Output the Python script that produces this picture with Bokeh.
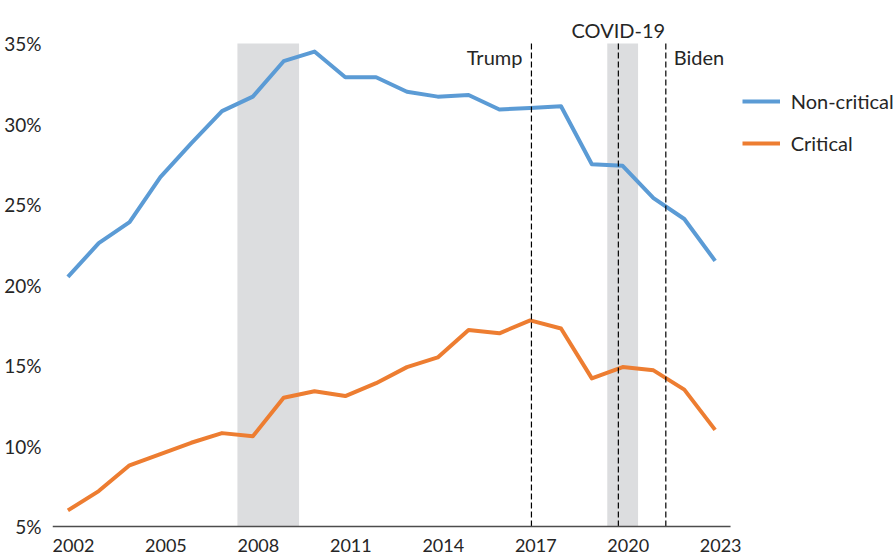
from bokeh.plotting import figure
from bokeh.models import (ColumnDataSource, FixedTicker, PrintfTickFormatter,
                          CustomJSTickFormatter, Legend, LegendItem, Label, Range1d)
from bokeh.embed import file_html
from bokeh.resources import INLINE

# ---- data ----
years = list(range(2002, 2024))
non_critical = [20.5, 22.6, 23.9, 26.7, 28.8, 30.8, 31.7, 33.9, 34.5, 32.9, 32.9,
                32.0, 31.7, 31.8, 30.9, 31.0, 31.1, 27.5, 27.4, 25.4, 24.1, 21.5]
critical = [6.0, 7.2, 8.8, 9.5, 10.2, 10.8, 10.6, 13.0, 13.4, 13.1, 13.9,
            14.9, 15.5, 17.2, 17.0, 17.8, 17.3, 14.2, 14.9, 14.7, 13.5, 11.0]
shade_start = [2007.5, 2019.5]
shade_end = [2009.5, 2020.5]
event_names = ["Trump", "COVID-19", "Biden"]
event_years = [2017.04, 2019.86, 2021.4]
x_ticks = [2002, 2005, 2008, 2011, 2014, 2017, 2020, 2023]
y_ticks = [5, 10, 15, 20, 25, 30, 35]
x_axis_extent = (2001.5, 2023.5)
y_axis_extent = (5, 35)

FONT = "Lato"
TXT = "#262626"
BLUE = "#5B9BD5"
ORANGE = "#ED7D31"

# frame geometry (figure pixels)
W, H = 893, 555
LEFT, TOP = 52, 2
Y_TOP_PX = 43          # where 35% sits, from the figure top
PX_PER_YEAR = 30.82
PX_PER_PCT = 16.1
LABEL_SHIFT = 0.18     # year labels sit slightly right of their year (as in source)
frame_w = W - LEFT
frame_h = H - TOP
x0 = x_axis_extent[0]
x1 = x0 + frame_w / PX_PER_YEAR
y1 = y_axis_extent[1] + (Y_TOP_PX - TOP) / PX_PER_PCT
y0 = y1 - frame_h / PX_PER_PCT

p = figure(width=W, height=H, output_backend="svg", toolbar_location=None,
           x_range=Range1d(x0, x1), y_range=Range1d(y0, y1),
           min_border_left=LEFT, min_border_right=0, min_border_top=TOP,
           min_border_bottom=0)
p.outline_line_color = None
p.xgrid.visible = False
p.ygrid.visible = False
p.background_fill_color = "white"
p.border_fill_color = "white"

# shaded periods
shade_src = ColumnDataSource(dict(left=shade_start, right=shade_end))
p.quad(left="left", right="right", bottom=y_axis_extent[0], top=y_axis_extent[1],
       source=shade_src, fill_color="#DCDDDF", line_color=None)

src = ColumnDataSource(dict(year=years, nc=non_critical, c=critical))
r_nc = p.line("year", "nc", source=src, line_color=BLUE, line_width=4,
              line_join="round")
r_c = p.line("year", "c", source=src, line_color=ORANGE, line_width=4,
             line_join="round")

# event lines
ev_src = ColumnDataSource(dict(x=event_years))
p.segment(x0="x", x1="x", y0=y_axis_extent[0], y1=y_axis_extent[1], source=ev_src,
          line_color="black", line_width=1.2, line_dash="6 3")

# x axis baseline (only over the axis extent)
p.segment(x0=[x_axis_extent[0]], x1=[x_axis_extent[1]],
          y0=[y_axis_extent[0]], y1=[y_axis_extent[0]],
          line_color="#4d4d4d", line_width=1.5)

# event labels
offsets = [(-9, 34.15, "right"), (0, 35.85, "center"), (8, 34.15, "left")]
for name, yr, (dx, yy, al) in zip(event_names, event_years, offsets):
    p.add_layout(Label(x=yr, y=yy, x_offset=dx, text=name, text_align=al,
                       text_baseline="alphabetic", text_font=FONT,
                       text_font_size="20px", text_color=TXT))

# axes
p.xaxis.fixed_location = y_axis_extent[0]
p.xaxis.ticker = FixedTicker(ticks=[t + LABEL_SHIFT for t in x_ticks])
p.xaxis.formatter = CustomJSTickFormatter(code="return String(Math.floor(tick));")
p.xaxis.major_tick_line_color = None
p.xaxis.minor_tick_line_color = None
p.xaxis.axis_line_color = None
p.xaxis.major_label_standoff = 6
p.xaxis.major_label_text_font = FONT
p.xaxis.major_label_text_font_size = "18px"
p.xaxis.major_label_text_color = TXT

p.yaxis.ticker = FixedTicker(ticks=y_ticks)
p.yaxis.formatter = PrintfTickFormatter(format="%d%%")
p.yaxis.axis_line_color = None
p.yaxis.major_tick_line_color = None
p.yaxis.minor_tick_line_color = None
p.yaxis.major_label_standoff = 5
p.yaxis.major_label_text_font = FONT
p.yaxis.major_label_text_font_size = "19px"
p.yaxis.major_label_text_color = TXT

# legend (inside the frame, to the right of the data)
leg_left_px = 741.7 - LEFT
leg_bottom_px = H - 155.3
legend = Legend(items=[LegendItem(label="Non-critical", renderers=[r_nc]),
                       LegendItem(label="Critical", renderers=[r_c])],
                location=(leg_left_px, leg_bottom_px), orientation="vertical",
                glyph_width=38, glyph_height=20, label_height=20, spacing=18,
                label_standoff=11, padding=0, margin=0,
                border_line_color=None, background_fill_alpha=0,
                label_text_font=FONT, label_text_font_size="20px",
                label_text_color=TXT)
p.add_layout(legend, "center")

open("out.html", "w").write(file_html(p, INLINE))
